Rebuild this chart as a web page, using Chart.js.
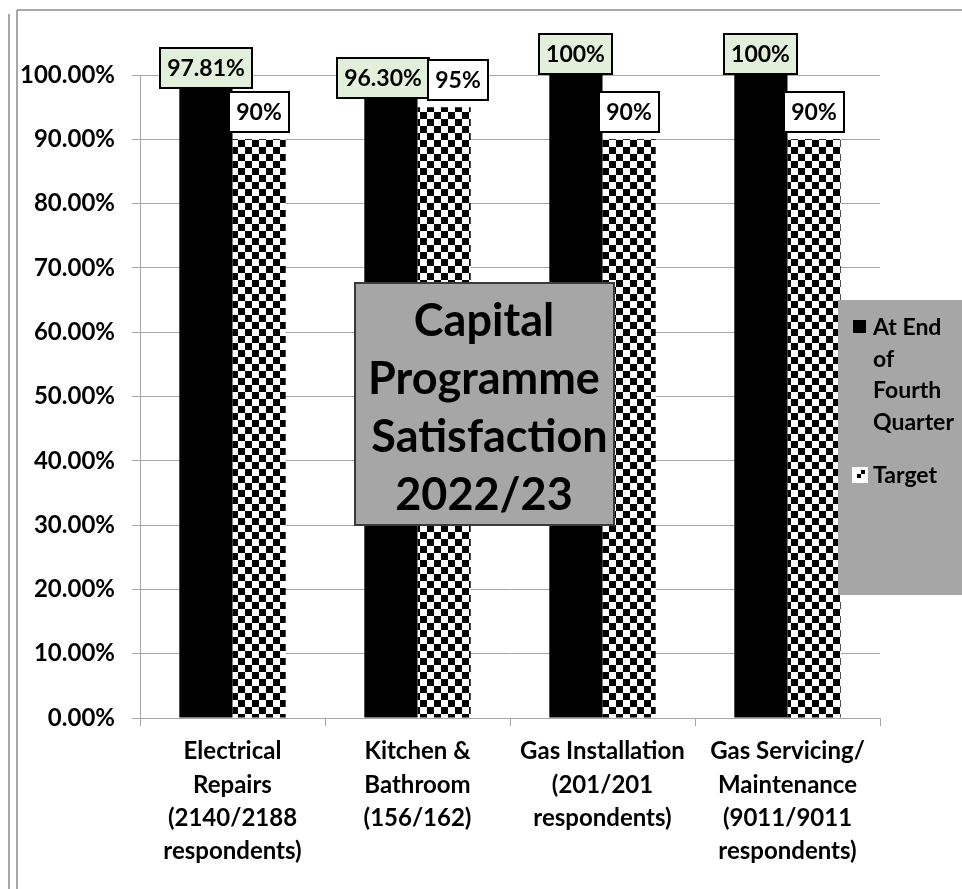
<!DOCTYPE html>
<html>
<head>
<meta charset="utf-8">
<script src="https://cdn.jsdelivr.net/npm/chart.js@4/dist/chart.umd.min.js"></script>
<style>
  html, body { margin: 0; padding: 0; background: #ffffff; }
  #wrap { width: 962px; height: 889px; position: relative; }
</style>
</head>
<body>
<div id="wrap"><canvas id="c" width="962" height="889"></canvas></div>
<script>
// Chart data
const categories = [
  ['Electrical', 'Repairs', '(2140/2188', 'respondents)'],
  ['Kitchen &', 'Bathroom', '(156/162)'],
  ['Gas Installation', '(201/201', 'respondents)'],
  ['Gas Servicing/', 'Maintenance', '(9011/9011', 'respondents)']
];
const quarterEnd = [97.81, 96.30, 100, 100];
const target = [90, 95, 90, 90];
const seriesNames = ['At End of Fourth Quarter', 'Target'];
const yTicks = [0, 10, 20, 30, 40, 50, 60, 70, 80, 90, 100];
const titleLines = ['Capital', 'Programme', ' Satisfaction', '2022/23'];

const FONT = 'Lato, "Open Sans", sans-serif';

// checkerboard fill for the target bars
function checker(size) {
  const c = document.createElement('canvas');
  c.width = size * 2; c.height = size * 2;
  const g = c.getContext('2d');
  g.fillStyle = '#ffffff'; g.fillRect(0, 0, size * 2, size * 2);
  g.fillStyle = '#000000';
  g.fillRect(0, 0, size, size);
  g.fillRect(size, size, size, size);
  return g.createPattern(c, 'repeat');
}
const ctxMain = document.getElementById('c').getContext('2d');
const checkerFill = checker(7);

function fmt(v) {
  return Number.isInteger(v) ? v + '%' : v.toFixed(2) + '%';
}

// outer frame lines
const framePlugin = {
  id: 'frame',
  beforeDraw(chart) {
    const g = chart.ctx;
    g.save();
    g.strokeStyle = '#8c8c8c';
    g.lineWidth = 1.5;
    g.beginPath();
    g.moveTo(9, 14); g.lineTo(9, 889);
    g.moveTo(17, 10); g.lineTo(17, 889);
    g.moveTo(17, 10); g.lineTo(962, 10);
    g.stroke();
    g.restore();
  }
};

// value boxes above the bars
const labelShift = [[0, 0], [-8, 14], [0, 0], [0, 0]];
const labelGap = [1, 7];
const labelPlugin = {
  id: 'valueBoxes',
  afterDatasetsDraw(chart) {
    const g = chart.ctx;
    g.save();
    g.font = 'bold 23px ' + FONT;
    g.textAlign = 'center';
    g.textBaseline = 'middle';
    chart.data.datasets.forEach((ds, di) => {
      const meta = chart.getDatasetMeta(di);
      meta.data.forEach((bar, i) => {
        const txt = fmt(ds.data[i]);
        const w = Math.round(g.measureText(txt).width + 14);
        const h = 40;
        const cx = bar.x + labelShift[i][di];
        const bottom = bar.y - labelGap[di];
        const x0 = Math.round(cx - w / 2), y0 = Math.round(bottom - h);
        g.fillStyle = di === 0 ? '#e2efda' : '#ffffff';
        g.fillRect(x0, y0, w, h);
        g.lineWidth = 2;
        g.strokeStyle = '#000000';
        g.strokeRect(x0, y0, w, h);
        g.fillStyle = '#000000';
        g.fillText(txt, x0 + w / 2, y0 + h / 2 + 1);
      });
    });
    g.restore();
  }
};

// title panel and legend panel
const panelPlugin = {
  id: 'panels',
  afterDraw(chart) {
    const g = chart.ctx;
    g.save();
    // title panel
    g.fillStyle = '#a6a6a6';
    g.fillRect(355, 283, 259, 242);
    g.strokeStyle = '#3a3a3a';
    g.lineWidth = 2;
    g.strokeRect(355, 283, 259, 242);
    g.fillStyle = '#000000';
    g.font = 'bold 45px ' + FONT;
    g.textAlign = 'center';
    g.textBaseline = 'middle';
    titleLines.forEach((t, i) => g.fillText(t, 484, 321 + i * 58));

    // legend panel
    g.fillStyle = '#a6a6a6';
    g.fillRect(838, 300, 124, 295);
    g.font = 'bold 23px ' + FONT;
    g.textAlign = 'left';
    g.fillStyle = chart.data.datasets[0].backgroundColor;
    g.fillRect(853, 320, 13, 13);
    const words = ['At End', 'of', 'Fourth', 'Quarter'];
    g.fillStyle = '#000000';
    words.forEach((t, i) => g.fillText(t, 873, 328 + i * 31.5));
    g.fillStyle = '#ffffff';
    g.fillRect(852, 467, 16, 16);
    g.fillStyle = '#000000';
    g.fillRect(857, 474, 4, 4);
    g.fillRect(861, 470, 4, 4);
    g.fillStyle = '#000000';
    g.fillText(seriesNames[1], 873, 476);
    g.restore();
  }
};

new Chart(ctxMain, {
  type: 'bar',
  data: {
    labels: categories,
    datasets: [
      { label: seriesNames[0], data: quarterEnd, backgroundColor: '#000000',
        categoryPercentage: 0.575, barPercentage: 1.0 },
      { label: seriesNames[1], data: target, backgroundColor: checkerFill,
        categoryPercentage: 0.575, barPercentage: 1.0 }
    ]
  },
  options: {
    responsive: false,
    animation: false,
    layout: { padding: { left: 0, right: 82, top: 75, bottom: 0 } },
    plugins: {
      legend: { display: false },
      tooltip: { enabled: false },
      title: { display: false }
    },
    scales: {
      x: {
        offset: true,
        grid: { drawOnChartArea: false, drawTicks: true, tickLength: 8, color: '#a6a6a6', offset: true },
        border: { color: '#a6a6a6', width: 1 },
        ticks: {
          color: '#000000',
          font: { family: FONT, size: 24, weight: 'bold', lineHeight: 1.385 },
          padding: 9,
          maxRotation: 0,
          autoSkip: false
        },
        afterFit(scale) { scale.height = 171; }
      },
      y: {
        min: 0,
        max: 100,
        afterBuildTicks(scale) { scale.ticks = yTicks.map(v => ({ value: v })); },
        grid: { color: '#a6a6a6', tickLength: 8, lineWidth: 1 },
        border: { color: '#a6a6a6', width: 1 },
        ticks: {
          color: '#000000',
          font: { family: FONT, size: 24, weight: 'bold' },
          padding: 17,
          callback: v => v.toFixed(2) + '%'
        },
        afterFit(scale) { scale.width = 140; }
      }
    }
  },
  plugins: [framePlugin, labelPlugin, panelPlugin]
});
</script>
</body>
</html>
